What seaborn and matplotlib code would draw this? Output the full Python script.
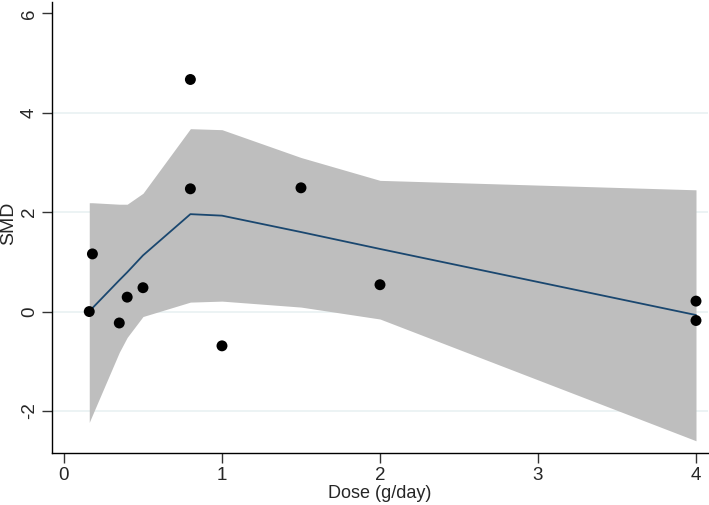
import matplotlib
matplotlib.use("Agg")
import matplotlib.pyplot as plt
import seaborn as sns
import pandas as pd

# observed study estimates
dose = [0.16, 0.18, 0.35, 0.40, 0.50, 0.80, 0.80, 1.00, 1.50, 2.00, 4.00, 4.00]
smd = [0.00, 1.16, -0.23, 0.29, 0.48, 4.67, 2.47, -0.69, 2.49, 0.54, 0.21, -0.18]

# fitted dose-response curve with 95% CI
fit_dose = [0.16, 0.18, 0.35, 0.40, 0.50, 0.80, 1.00, 1.50, 2.00, 4.00]
fit_smd = [0.00, 0.07, 0.63, 0.79, 1.13, 1.96, 1.93, 1.60, 1.26, -0.07]
fit_upper = [2.19, 2.19, 2.16, 2.16, 2.38, 3.68, 3.66, 3.10, 2.64, 2.45]
fit_lower = [-2.23, -2.08, -0.82, -0.52, -0.10, 0.19, 0.21, 0.09, -0.15, -2.60]

x_ticks = [0, 1, 2, 3, 4]
y_ticks = [-2, 0, 2, 4, 6]

sns.set_style("white")
plt.rcParams["font.family"] = ["Liberation Sans", "DejaVu Sans"]

pts = pd.DataFrame({"dose": dose, "smd": smd})
fit = pd.DataFrame({"dose": fit_dose, "smd": fit_smd,
                    "lo": fit_lower, "hi": fit_upper})

fig = plt.figure(figsize=(7.09, 5.05), dpi=100)
ax = fig.add_axes([0.0733, 0.1036, 0.9253, 0.8925])

# light horizontal grid, like Stata's s2color scheme
for y in [-2, 0, 2, 4]:
    ax.axhline(y, color="#eaf2f3", lw=1.3, zorder=0)

ax.fill_between(fit["dose"], fit["lo"], fit["hi"], color="#bebebe", lw=0, zorder=1)
sns.lineplot(data=fit, x="dose", y="smd", color="#1a476f", lw=1.3, ax=ax, zorder=2)
sns.scatterplot(data=pts, x="dose", y="smd", color="black", s=62,
                edgecolor="none", ax=ax, zorder=3)

ax.set_xlim(-0.076, 4.076)
ax.set_ylim(-2.84, 6.23)
ax.set_xticks(x_ticks)
ax.set_yticks(y_ticks)
ax.set_xticklabels([str(t) for t in x_ticks])
ax.set_yticklabels([str(t) for t in y_ticks], rotation=90, va="center")

ax.set_xlabel("Dose (g/day)", fontsize=13, labelpad=1)
ax.set_ylabel("SMD", fontsize=14, va="center")
ax.yaxis.set_label_coords(-0.066, 0.51)
ax.tick_params(axis="both", labelsize=13.5, length=7, width=1, color="#333333",
               direction="out", pad=3)
ax.tick_params(axis="x", bottom=True)
ax.tick_params(axis="y", left=True)

for side in ["top", "right"]:
    ax.spines[side].set_visible(False)
for side in ["left", "bottom"]:
    ax.spines[side].set_color("black")
    ax.spines[side].set_linewidth(1.0)

fig.savefig("out.png", dpi=100)
